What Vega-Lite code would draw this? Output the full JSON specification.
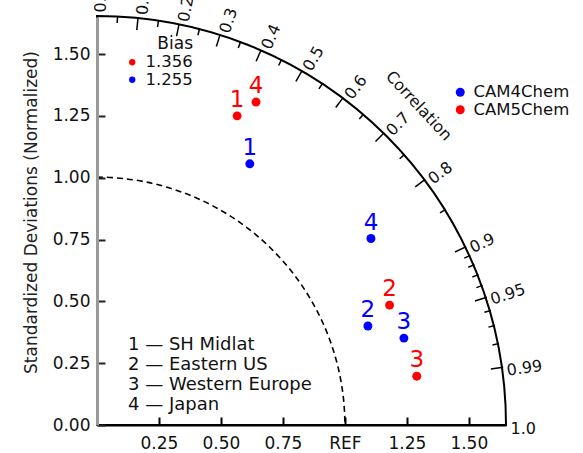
{
  "$schema": "https://vega.github.io/schema/vega-lite/v6.json",
  "width": 409,
  "height": 408,
  "autosize": {"type": "none"},
  "padding": {"left": 97, "top": 17, "right": 77, "bottom": 28},
  "background": "white",
  "config": {
    "view": {"stroke": null},
    "font": "DejaVu Sans",
    "axis": {"grid": false, "labelFontSize": 17, "labelColor": "#111", "titleColor": "#222", "labelFont": "DejaVu Sans", "titleFont": "DejaVu Sans"},
    "legend": {"labelFont": "DejaVu Sans", "titleFont": "DejaVu Sans", "labelColor": "#111", "titleColor": "#111", "padding": 0, "labelLimit": 400}
  },
  "datasets": {
    "points": [
      {"model": "CAM4Chem", "region": "1", "sd": 1.223, "corr": 0.504},
      {"model": "CAM4Chem", "region": "2", "sd": 1.164, "corr": 0.939},
      {"model": "CAM4Chem", "region": "3", "sd": 1.287, "corr": 0.962},
      {"model": "CAM4Chem", "region": "4", "sd": 1.338, "corr": 0.826},
      {"model": "CAM5Chem", "region": "1", "sd": 1.372, "corr": 0.412},
      {"model": "CAM5Chem", "region": "2", "sd": 1.276, "corr": 0.925},
      {"model": "CAM5Chem", "region": "3", "sd": 1.305, "corr": 0.9885},
      {"model": "CAM5Chem", "region": "4", "sd": 1.455, "corr": 0.441}
    ],
    "guides": [{"name": "outer", "sd": 1.65}, {"name": "ref", "sd": 1.0}],
    "corrTicks": [
      {"c": 0.05, "major": false}, {"c": 0.1, "major": true}, {"c": 0.15, "major": false}, {"c": 0.2, "major": true},
      {"c": 0.25, "major": false}, {"c": 0.3, "major": true}, {"c": 0.35, "major": false}, {"c": 0.4, "major": true},
      {"c": 0.45, "major": false}, {"c": 0.5, "major": true}, {"c": 0.55, "major": false}, {"c": 0.6, "major": true},
      {"c": 0.65, "major": false}, {"c": 0.7, "major": true}, {"c": 0.75, "major": false}, {"c": 0.8, "major": true},
      {"c": 0.85, "major": false}, {"c": 0.9, "major": true}, {"c": 0.91, "major": false}, {"c": 0.92, "major": false},
      {"c": 0.93, "major": false}, {"c": 0.94, "major": false}, {"c": 0.95, "major": true}, {"c": 0.96, "major": false},
      {"c": 0.97, "major": false}, {"c": 0.98, "major": false}, {"c": 0.99, "major": true}
    ],
    "corrLabels": [
      {"c": 0.0, "label": "0.0"}, {"c": 0.1, "label": "0.1"}, {"c": 0.2, "label": "0.2"}, {"c": 0.3, "label": "0.3"},
      {"c": 0.4, "label": "0.4"}, {"c": 0.5, "label": "0.5"}, {"c": 0.6, "label": "0.6"}, {"c": 0.7, "label": "0.7"},
      {"c": 0.8, "label": "0.8"}, {"c": 0.9, "label": "0.9"}, {"c": 0.95, "label": "0.95"}, {"c": 0.99, "label": "0.99"},
      {"c": 1.0, "label": "1.0"}
    ],
    "bias": [{"model": "CAM5Chem", "bias": "1.356"}, {"model": "CAM4Chem", "bias": "1.255"}],
    "regions": [
      {"id": 1, "region": "1 — SH Midlat"},
      {"id": 2, "region": "2 — Eastern US"},
      {"id": 3, "region": "3 — Western Europe"},
      {"id": 4, "region": "4 — Japan"}
    ],
    "titles": [{"title": "Correlation", "sd": 1.83, "corr": 0.709}]
  },
  "layer": [
    {
      "data": {"name": "guides"},
      "transform": [{"filter": "datum.name == 'outer'"}],
      "mark": {"type": "arc", "theta": 0, "theta2": 1.5708, "filled": false, "stroke": "black", "strokeWidth": 2},
      "encoding": {
        "x": {"datum": 0, "type": "quantitative", "scale": {"domain": [0, 1.65], "nice": false}},
        "y": {"datum": 0, "type": "quantitative", "scale": {"domain": [0, 1.65], "nice": false}},
        "radius": {"field": "sd", "type": "quantitative", "scale": {"type": "linear", "domain": [0, 1.65], "range": [0, {"expr": "width"}]}, "legend": null}
      }
    },
    {
      "data": {"name": "guides"},
      "transform": [{"filter": "datum.name == 'ref'"}],
      "mark": {"type": "arc", "theta": 0, "theta2": 1.5708, "filled": false, "stroke": "black", "strokeWidth": 1.6, "strokeDash": [6, 4]},
      "encoding": {
        "x": {"datum": 0, "type": "quantitative", "scale": {"domain": [0, 1.65], "nice": false}},
        "y": {"datum": 0, "type": "quantitative", "scale": {"domain": [0, 1.65], "nice": false}},
        "radius": {"field": "sd", "type": "quantitative", "scale": {"type": "linear", "domain": [0, 1.65], "range": [0, {"expr": "width"}]}, "legend": null}
      }
    },
    {
      "data": {"name": "corrTicks"},
      "transform": [
        {"calculate": "sqrt(1 - datum.c * datum.c)", "as": "s"},
        {"calculate": "datum.major ? 1.605 : 1.628", "as": "r0"},
        {"calculate": "datum.r0 * datum.c", "as": "px"},
        {"calculate": "datum.r0 * datum.s", "as": "py"},
        {"calculate": "1.655 * datum.c", "as": "x1"},
        {"calculate": "1.655 * datum.s", "as": "y1"}
      ],
      "mark": {"type": "rule", "color": "black", "strokeWidth": 1.5},
      "encoding": {
        "x": {"field": "px", "type": "quantitative", "scale": {"domain": [0, 1.65], "nice": false}},
        "y": {"field": "py", "type": "quantitative", "scale": {"domain": [0, 1.65], "nice": false}},
        "x2": {"field": "x1"},
        "y2": {"field": "y1"}
      }
    },
    {
      "data": {"name": "corrLabels"},
      "transform": [
        {"calculate": "1.668 * datum.c", "as": "px"},
        {"calculate": "1.668 * sqrt(1 - datum.c * datum.c)", "as": "py"},
        {"calculate": "-acos(datum.c) * 180 / PI", "as": "ang"}
      ],
      "mark": {"type": "text", "align": "left", "baseline": "middle", "dy": 4, "fontSize": 16, "color": "#111"},
      "encoding": {
        "x": {"field": "px", "type": "quantitative", "scale": {"domain": [0, 1.65], "nice": false}},
        "y": {"field": "py", "type": "quantitative", "scale": {"domain": [0, 1.65], "nice": false}},
        "text": {"field": "label"},
        "angle": {"field": "ang", "type": "quantitative", "scale": null}
      }
    },
    {
      "data": {"name": "titles"},
      "transform": [
        {"calculate": "datum.sd * datum.corr", "as": "px"},
        {"calculate": "datum.sd * sqrt(1 - datum.corr * datum.corr)", "as": "py"}
      ],
      "mark": {"type": "text", "align": "center", "baseline": "middle", "fontSize": 16, "angle": 47, "color": "#111"},
      "encoding": {
        "x": {"field": "px", "type": "quantitative", "scale": {"domain": [0, 1.65], "nice": false}},
        "y": {"field": "py", "type": "quantitative", "scale": {"domain": [0, 1.65], "nice": false}},
        "text": {"field": "title"}
      }
    },
    {
      "data": {"name": "bias"},
      "mark": {"type": "point", "filled": true, "opacity": 0},
      "encoding": {
        "x": {"datum": 0, "type": "quantitative", "scale": {"domain": [0, 1.65], "nice": false}},
        "y": {"datum": 0, "type": "quantitative", "scale": {"domain": [0, 1.65], "nice": false}},
        "fill": {
          "field": "bias", "type": "nominal",
          "scale": {"domain": ["1.356", "1.255"], "range": ["#ff0000", "#0000ff"]},
          "legend": {"title": "Bias", "orient": "none", "legendX": 27, "legendY": 19, "titleFontSize": 17, "titleFontWeight": "normal", "titleAnchor": "end", "titlePadding": 1, "labelFontSize": 16.5, "labelOffset": 5, "symbolType": "circle", "symbolSize": 40, "symbolOpacity": 1, "symbolStrokeWidth": 0, "rowPadding": 0.5}
        }
      }
    },
    {
      "data": {"name": "regions"},
      "mark": {"type": "point", "opacity": 0},
      "encoding": {
        "x": {"datum": 0, "type": "quantitative", "scale": {"domain": [0, 1.65], "nice": false}},
        "y": {"datum": 0, "type": "quantitative", "scale": {"domain": [0, 1.65], "nice": false}},
        "shape": {
          "field": "region", "type": "nominal",
          "legend": {"title": null, "orient": "none", "legendX": 13, "legendY": 319, "labelFontSize": 18, "labelOffset": 0, "symbolSize": 1, "symbolOpacity": 0, "symbolStrokeWidth": 0, "rowPadding": 2}
        }
      }
    },
    {
      "data": {"name": "points"},
      "transform": [
        {"calculate": "datum.sd * datum.corr", "as": "px"},
        {"calculate": "datum.sd * sqrt(1 - datum.corr * datum.corr)", "as": "py"}
      ],
      "mark": {"type": "point", "filled": true, "size": 80, "opacity": 1},
      "encoding": {
        "x": {
          "field": "px", "type": "quantitative", "scale": {"domain": [0, 1.65], "nice": false},
          "axis": {"title": "", "values": [0.25, 0.5, 0.75, 1, 1.25, 1.5], "labelExpr": "datum.value == 1 ? 'REF' : format(datum.value, '.2f')", "domainColor": "black", "domainWidth": 2, "tickColor": "black", "tickWidth": 2, "tickSize": -8, "labelPadding": 18, "zindex": 1}
        },
        "y": {
          "field": "py", "type": "quantitative", "scale": {"domain": [0, 1.65], "nice": false},
          "axis": {"title": "Standardized Deviations (Normalized)", "values": [0, 0.25, 0.5, 0.75, 1, 1.25, 1.5], "format": ".2f", "domainColor": "#9a9a9a", "domainWidth": 3, "tickColor": "#222", "tickWidth": 2, "tickSize": -8, "labelPadding": 15, "titleFontSize": 17, "titleFontWeight": "normal", "titlePadding": 12, "titleY": 195, "zindex": 1}
        },
        "color": {
          "field": "model", "type": "nominal", "scale": {"domain": ["CAM4Chem", "CAM5Chem"], "range": ["#0000ff", "#ff0000"]},
          "legend": {"title": null, "orient": "none", "legendX": 355, "legendY": 67, "labelFontSize": 16.5, "labelOffset": 5, "symbolType": "circle", "symbolSize": 80, "symbolStrokeWidth": 0, "rowPadding": 0.5}
        }
      }
    },
    {
      "data": {"name": "points"},
      "transform": [
        {"calculate": "datum.sd * datum.corr", "as": "px"},
        {"calculate": "datum.sd * sqrt(1 - datum.corr * datum.corr)", "as": "py"}
      ],
      "mark": {"type": "text", "align": "center", "baseline": "alphabetic", "dy": -9, "fontSize": 23},
      "encoding": {
        "x": {"field": "px", "type": "quantitative", "scale": {"domain": [0, 1.65], "nice": false}},
        "y": {"field": "py", "type": "quantitative", "scale": {"domain": [0, 1.65], "nice": false}},
        "text": {"field": "region"},
        "color": {"field": "model", "type": "nominal"}
      }
    }
  ]
}
